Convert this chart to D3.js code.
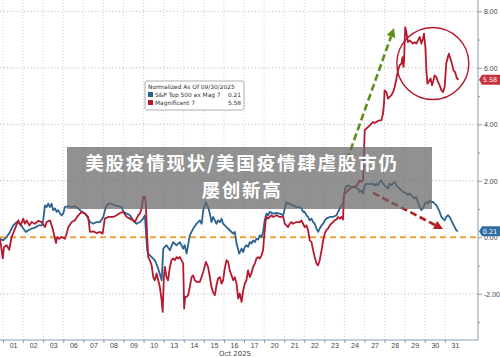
<!DOCTYPE html>
<html><head><meta charset="utf-8">
<script src="https://cdn.jsdelivr.net/npm/d3@7"></script>
<style>
html,body{margin:0;padding:0;background:#fff;}
svg{display:block;}
</style></head>
<body>
<script>
const dayLabels = ["01","02","03","06","07","08","09","10","13","14","15","16","17","20","21","22","23","24","27","28","29","30","31"];
const monthLabel = "Oct 2025";
const yTicks = [-2,0,2,4,6,8];
const yMinor = [-3,-1,1,3,5,7];
const legendTitle = "Normalized As Of 09/30/2025";
const seriesNames = ["S&P Top 500 ex Mag 7","Magnificent 7"];
const overlayLines = ["美股疫情现状/美国疫情肆虐股市仍","屡创新高"];

// [day index (fractional), normalized value]
const sp500exMag = [
[-0.15,-0.05],[0.01,-0.11],[0.18,0.01],[0.35,0.19],[0.51,0.42],[0.68,0.54],[0.85,0.48],[1.01,0.31],[1.14,0.19],[1.26,0.25],
[1.43,0.31],[1.59,0.34],[1.76,0.42],[1.93,0.42],[2.00,0.60],[2.09,1.13],[2.17,1.07],[2.25,1.19],[2.34,1.07],[2.42,1.19],
[2.50,0.96],[2.59,1.02],[2.67,0.90],[2.75,0.96],[2.84,0.84],[2.92,0.78],[3.00,0.84],[3.08,1.07],[3.25,1.10],[3.42,1.07],
[3.58,1.10],[3.75,1.02],[3.92,0.90],[4.08,0.84],[4.16,0.78],[4.24,0.66],[4.33,0.54],[4.49,0.48],[4.66,0.54],[4.83,0.54],
[4.99,0.72],[5.12,1.07],[5.24,1.19],[5.41,1.19],[5.57,1.13],[5.74,1.10],[5.91,1.07],[5.99,0.90],[6.16,0.84],[6.32,0.78],
[6.48,0.60],[6.65,0.48],[6.82,0.54],[6.98,0.66],[7.06,0.78],[7.18,-0.46],[7.23,-0.58],[7.40,-0.70],[7.56,-0.81],[7.73,-1.11],
[7.90,-1.52],[7.98,-0.40],[8.14,-0.28],[8.31,-0.46],[8.47,-0.17],[8.64,-0.28],[8.81,-0.17],[8.97,-0.40],[9.05,-0.28],[9.14,-0.58],
[9.30,0.07],[9.47,0.31],[9.64,0.48],[9.80,0.60],[9.89,0.48],[9.97,0.96],[10.10,1.25],[10.21,1.07],[10.30,0.84],[10.38,0.54],
[10.46,0.72],[10.63,0.48],[10.71,0.60],[10.80,0.54],[10.88,0.66],[10.96,0.48],[11.04,0.42],[11.13,0.36],[11.29,0.25],[11.46,0.13],
[11.54,0.19],[11.63,-0.22],[11.76,-0.58],[11.88,-0.40],[11.96,-0.52],[12.04,-0.34],[12.12,-0.28],[12.20,-0.34],[12.29,-0.17],[12.37,-0.22],
[12.45,-0.11],[12.54,-0.17],[12.62,-0.05],[12.70,-0.08],[12.79,0.07],[12.87,0.01],[12.95,0.19],[13.03,0.60],[13.12,0.84],[13.20,0.78],
[13.28,0.90],[13.45,0.84],[13.62,0.86],[13.78,0.84],[13.95,0.78],[14.03,1.02],[14.11,1.25],[14.19,1.19],[14.28,1.19],[14.44,1.13],
[14.61,1.07],[14.78,1.07],[14.86,1.02],[14.94,0.90],[15.02,0.90],[15.11,0.78],[15.19,0.72],[15.27,0.60],[15.36,0.66],[15.44,0.54],
[15.52,0.48],[15.61,0.31],[15.69,0.19],[15.77,0.31],[15.86,0.42],[15.94,0.48],[16.02,0.60],[16.10,0.66],[16.27,0.72],[16.43,0.72],
[16.60,0.78],[16.68,0.90],[16.77,1.02],[16.85,1.13],[16.93,1.19],[17.01,1.60],[17.06,1.78],[17.18,1.84],[17.35,1.78],[17.51,1.78],
[17.68,1.72],[17.76,1.60],[17.85,1.66],[17.93,1.55],[18.01,1.84],[18.09,1.90],[18.26,1.88],[18.42,1.90],[18.51,1.84],[18.59,1.90],
[18.67,1.84],[18.76,1.96],[18.84,2.02],[18.92,1.90],[19.00,1.84],[19.09,1.78],[19.17,1.72],[19.25,1.90],[19.34,1.84],[19.42,1.90],
[19.50,1.96],[19.59,1.84],[19.67,1.78],[19.75,1.72],[19.84,1.66],[19.92,1.60],[20.00,1.60],[20.08,1.55],[20.16,1.49],[20.25,1.55],
[20.33,1.49],[20.41,1.43],[20.50,1.37],[20.58,1.43],[20.66,1.25],[20.75,1.07],[20.83,0.96],[20.91,1.02],[21.00,1.19],[21.08,1.25],
[21.16,1.19],[21.24,1.31],[21.33,1.25],[21.41,1.25],[21.49,1.19],[21.58,1.13],[21.66,1.02],[21.74,0.90],[21.83,0.72],[21.91,0.66],
[21.99,0.60],[22.07,0.72],[22.15,0.78],[22.24,0.72],[22.32,0.60],[22.40,0.48],[22.49,0.36],[22.57,0.25],[22.65,0.21]
];

const magnificent7 = [
[-0.15,-0.05],[-0.01,-0.75],[0.05,-0.34],[0.18,-0.28],[0.31,-0.44],[0.43,0.01],[0.60,0.31],[0.76,0.60],[0.88,0.42],[1.01,0.66],
[1.09,0.48],[1.18,0.60],[1.31,0.42],[1.43,0.54],[1.59,0.48],[1.76,0.58],[1.93,0.54],[2.09,0.36],[2.17,0.54],[2.34,0.60],
[2.47,0.31],[2.55,0.07],[2.64,-0.20],[2.70,0.01],[2.80,-0.05],[2.92,0.01],[3.08,-0.05],[3.17,0.13],[3.25,0.36],[3.42,0.54],
[3.58,0.60],[3.75,0.78],[3.92,0.90],[4.08,0.84],[4.24,0.72],[4.33,0.19],[4.49,0.21],[4.66,0.15],[4.83,0.19],[4.96,0.13],
[5.07,0.66],[5.24,0.72],[5.49,0.72],[5.66,0.78],[5.82,0.86],[5.99,0.90],[6.16,0.72],[6.32,0.66],[6.48,0.60],[6.57,0.54],
[6.65,0.66],[6.73,0.78],[6.82,0.84],[6.90,1.02],[6.98,1.43],[7.06,1.45],[7.11,1.19],[7.18,0.01],[7.23,-0.70],[7.31,-0.81],
[7.40,-0.99],[7.48,-1.41],[7.56,-1.52],[7.65,-1.28],[7.73,-1.52],[7.81,-1.76],[7.90,-2.23],[7.95,-2.64],[8.01,-1.41],[8.06,-1.05],
[8.14,-1.41],[8.22,-1.52],[8.31,-1.05],[8.39,-0.81],[8.47,-0.75],[8.56,-0.81],[8.64,-0.70],[8.72,-0.75],[8.81,-0.70],[8.89,-0.81],
[8.97,-0.93],[9.02,-2.52],[9.07,-2.11],[9.14,-2.11],[9.22,-2.05],[9.30,-1.76],[9.39,-1.41],[9.47,-1.35],[9.55,-1.52],[9.64,-1.58],
[9.80,-1.58],[9.97,-1.23],[10.10,-0.87],[10.21,-1.05],[10.30,-1.41],[10.38,-1.76],[10.46,-1.94],[10.55,-2.05],[10.63,-1.70],[10.71,-1.46],
[10.80,-1.41],[10.88,-1.64],[10.96,-1.52],[11.04,-1.11],[11.13,-0.81],[11.21,-0.87],[11.29,-1.17],[11.38,-1.35],[11.46,-1.52],[11.54,-1.41],
[11.63,-1.64],[11.71,-2.17],[11.79,-1.99],[11.88,-2.29],[11.96,-1.88],[12.04,-1.64],[12.12,-1.52],[12.20,-1.17],[12.29,-1.41],[12.37,-1.28],
[12.45,-1.05],[12.54,-0.93],[12.62,-0.75],[12.70,-0.70],[12.79,-0.75],[12.87,-0.64],[12.95,-0.46],[13.00,0.01],[13.08,0.60],[13.12,0.72],
[13.20,0.66],[13.28,0.72],[13.37,0.78],[13.45,0.72],[13.62,0.78],[13.78,0.72],[13.95,0.72],[14.03,0.48],[14.11,0.42],[14.19,0.36],
[14.28,0.48],[14.36,0.54],[14.44,0.48],[14.61,0.54],[14.78,0.54],[14.86,0.60],[14.94,0.48],[15.02,0.36],[15.11,0.42],[15.19,0.25],
[15.27,-0.11],[15.36,-0.17],[15.44,-0.46],[15.52,-0.70],[15.61,-0.93],[15.69,-0.99],[15.77,-0.81],[15.86,-0.46],[15.94,-0.11],[16.02,0.13],
[16.10,0.25],[16.18,0.31],[16.27,0.42],[16.35,0.48],[16.43,0.54],[16.52,0.60],[16.60,0.63],[16.68,0.72],[16.77,0.66],[16.85,0.72],
[16.93,0.63],[16.97,1.49],[17.01,1.55],[17.10,1.60],[17.18,1.66],[17.26,1.72],[17.43,1.78],[17.60,1.84],[17.68,1.90],[17.76,2.02],
[17.85,1.96],[17.93,2.02],[17.98,3.14],[18.01,3.79],[18.09,3.85],[18.17,3.90],[18.26,3.96],[18.34,4.02],[18.42,4.08],[18.51,4.05],
[18.59,4.08],[18.67,4.12],[18.76,4.14],[18.84,4.14],[18.92,4.38],[18.97,4.73],[19.00,5.20],[19.09,5.14],[19.17,4.91],[19.25,4.97],
[19.34,5.03],[19.42,5.14],[19.50,5.32],[19.59,5.62],[19.67,5.91],[19.75,6.09],[19.84,6.15],[19.89,6.38],[19.94,6.03],[19.97,6.27],
[20.00,6.97],[20.03,7.44],[20.08,7.27],[20.13,7.03],[20.16,6.91],[20.25,6.97],[20.33,6.91],[20.41,6.86],[20.50,6.91],[20.58,6.86],
[20.66,6.97],[20.75,7.09],[20.83,6.86],[20.91,7.03],[20.96,7.21],[21.03,6.74],[21.08,5.91],[21.13,5.44],[21.19,5.50],[21.29,5.62],
[21.36,5.38],[21.43,5.56],[21.49,5.73],[21.58,5.67],[21.66,5.50],[21.74,5.38],[21.83,5.20],[21.91,5.14],[21.99,5.32],[22.07,6.15],
[22.15,6.38],[22.20,6.50],[22.27,6.33],[22.35,6.15],[22.43,5.91],[22.51,5.85],[22.60,5.62],[22.68,5.58]
];

const W = 500, H = 357;
const svg = d3.select("body").append("svg").attr("width", W).attr("height", H)
  .style("font-family", "'DejaVu Sans', Verdana, sans-serif");

const x = d3.scaleLinear().domain([0, 23.65]).range([3, 478]);
const y = d3.scaleLinear().domain([-3.6, 8.4]).range([339, 0]);
const plotL = 0, plotR = 478, plotT = 0, plotB = 340;

// grid: vertical day boundaries
svg.append("g").selectAll("line").data(d3.range(0, 23))
  .join("line")
  .attr("x1", d => x(d)).attr("x2", d => x(d))
  .attr("y1", plotT).attr("y2", plotB)
  .attr("stroke", "#c8c8c8").attr("stroke-width", 0.8).attr("stroke-dasharray", "1,2");

// grid: horizontal
svg.append("g").selectAll("line").data(yTicks.filter(d => d !== 0))
  .join("line")
  .attr("x1", plotL).attr("x2", plotR)
  .attr("y1", d => y(d)).attr("y2", d => y(d))
  .attr("stroke", "#b8b8b8").attr("stroke-width", 0.9).attr("stroke-dasharray", "1.2,2.2");

// zero line
svg.append("line")
  .attr("x1", plotL).attr("x2", plotR)
  .attr("y1", y(0)).attr("y2", y(0))
  .attr("stroke", "#f0a33a").attr("stroke-width", 2).attr("stroke-dasharray", "6,4");

// axes
const axisColor = "#8a9bab";
const gx = svg.append("g").attr("transform", `translate(0,${plotB})`)
  .call(d3.axisBottom(x).tickValues(d3.range(23).map(i => i + 0.5))
    .tickFormat((d, i) => dayLabels[i]).tickSize(0).tickPadding(3));
gx.select(".domain").attr("stroke", axisColor).attr("d", `M${plotL},0H${plotR}`);
gx.selectAll("text").attr("font-size", 7).attr("fill", "#444");
svg.append("g").attr("transform", `translate(0,${plotB})`)
  .call(d3.axisBottom(x).tickValues(d3.range(0, 23)).tickFormat("").tickSize(3))
  .call(g => g.select(".domain").remove())
  .selectAll("line").attr("stroke", axisColor);
svg.append("text").attr("x", x(11.55)).attr("y", 355.5).attr("text-anchor", "middle")
  .attr("font-size", 7).attr("fill", "#444").text(monthLabel);

const gy = svg.append("g").attr("transform", `translate(${plotR},0)`)
  .call(d3.axisRight(y).tickValues(yTicks).tickFormat(d => d.toFixed(2)).tickSize(4).tickPadding(2));
gy.select(".domain").attr("stroke", axisColor).attr("d", `M0,${plotT}V${plotB}`);
gy.selectAll("line").attr("stroke", axisColor);
gy.selectAll("text").attr("font-size", 7).attr("fill", "#444");
svg.append("g").attr("transform", `translate(${plotR},0)`)
  .call(d3.axisRight(y).tickValues(yMinor).tickFormat("").tickSize(2))
  .call(g => g.select(".domain").remove())
  .selectAll("line").attr("stroke", axisColor);

// series
const line = d3.line().x(d => x(d[0])).y(d => y(d[1]));
const blueC = "#2b6392", redC = "#b5192f";
svg.append("path").datum(sp500exMag).attr("d", line)
  .attr("fill", "none").attr("stroke", blueC).attr("stroke-width", 1.8).attr("stroke-linejoin", "round");
svg.append("path").datum(magnificent7).attr("d", line)
  .attr("fill", "none").attr("stroke", redC).attr("stroke-width", 1.8).attr("stroke-linejoin", "round");

// value tags on right axis
function tag(v, color) {
  const cy = y(v);
  const g = svg.append("g");
  g.append("path").attr("d", `M${plotR + 1},${cy} L${plotR + 4},${cy - 5} H${W} V${cy + 5} H${plotR + 4} Z`).attr("fill", color);
  g.append("text").attr("x", plotR + 12).attr("y", cy + 2.5).attr("text-anchor", "middle")
    .attr("font-size", 6.5).attr("fill", "#fff").text(v.toFixed(2));
}
const lastBlue = sp500exMag[sp500exMag.length - 1][1];
const lastRed = magnificent7[magnificent7.length - 1][1];
tag(lastRed, "#c8323a");
tag(lastBlue, "#2f6da3");

// legend
const lg = svg.append("g").attr("transform", "translate(145,81)");
lg.append("rect").attr("width", 99).attr("height", 29).attr("rx", 2)
  .attr("fill", "#fff").attr("stroke", "#9a9a9a").attr("stroke-width", 0.8);
lg.append("text").attr("x", 3).attr("y", 8).attr("font-size", 5.9).attr("fill", "#333").text(legendTitle);
[[seriesNames[0], lastBlue, blueC], [seriesNames[1], lastRed, redC]].forEach((s, i) => {
  const yy = 16 + i * 8;
  lg.append("rect").attr("x", 3).attr("y", yy - 5).attr("width", 5).attr("height", 5).attr("fill", s[2]);
  lg.append("text").attr("x", 10).attr("y", yy).attr("font-size", 5.9).attr("fill", "#333").text(s[0]);
  lg.append("text").attr("x", 96).attr("y", yy).attr("text-anchor", "end").attr("font-size", 5.9).attr("fill", "#333").text(s[1].toFixed(2));
});

// annotations
function arrow(t0, v0, t1, v1, color) {
  const x0 = x(t0), y0 = y(v0), x1 = x(t1), y1 = y(v1);
  const ang = Math.atan2(y1 - y0, x1 - x0);
  const hl = 9, hw = 4.5;
  const bx = x1 - hl * Math.cos(ang), by = y1 - hl * Math.sin(ang);
  svg.append("line").attr("x1", x0).attr("y1", y0).attr("x2", bx).attr("y2", by)
    .attr("stroke", color).attr("stroke-width", 2.6).attr("stroke-dasharray", "7,3.5");
  const px = -Math.sin(ang), py = Math.cos(ang);
  svg.append("path").attr("d", `M${x1},${y1} L${bx + px * hw},${by + py * hw} L${bx - px * hw},${by - py * hw} Z`).attr("fill", color);
}
arrow(17.13, 2.74, 19.47, 7.41, "#5e8e1c");
arrow(18.42, 1.57, 21.91, 0.29, "#b3201f");

svg.append("circle").attr("cx", x(21.4)).attr("cy", y(6.15)).attr("r", 36)
  .attr("fill", "none").attr("stroke", "#b5192f").attr("stroke-width", 1.4);

// overlay band with caption
svg.append("rect").attr("x", 67).attr("y", 147).attr("width", 365).attr("height", 62)
  .attr("fill", "#666").attr("opacity", 0.72);
overlayLines.forEach((t, i) => {
  svg.append("text").attr("x", 242).attr("y", 170 + i * 27).attr("text-anchor", "middle")
    .attr("font-family", "'Noto Sans CJK SC', sans-serif").attr("font-weight", "bold")
    .attr("font-size", 18.5).attr("letter-spacing", 1.8).attr("fill", "#fff").text(t);
});
</script>
</body></html>
